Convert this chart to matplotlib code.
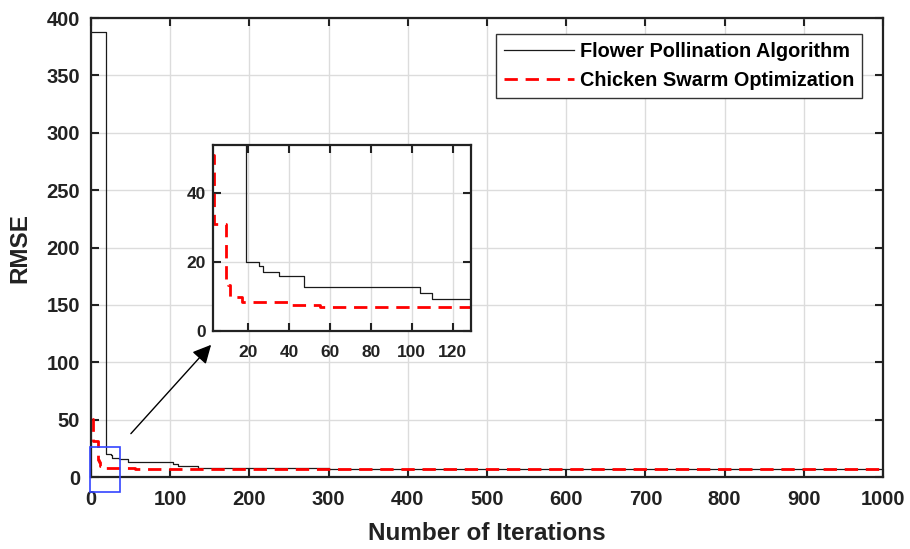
import matplotlib
matplotlib.use("Agg")
import matplotlib.pyplot as plt
from matplotlib.patches import Rectangle
import numpy as np

plt.rcParams['font.family'] = ['Liberation Sans', 'DejaVu Sans']
plt.rcParams['font.weight'] = 'bold'

# Step curves: iteration where a new best value begins, and that value
fpa_iter = [1, 19, 25, 27, 35, 47, 104, 110, 135, 210, 300, 1000]
fpa_rmse = [388, 20, 19, 17, 16, 12.8, 11, 9.2, 8.2, 7.5, 7.0, 7.0]
cso_iter = [1, 3, 9, 10, 11, 17, 40, 55, 1000]
cso_rmse = [51, 31, 15, 13.5, 10, 8.3, 7.6, 7.0, 7.0]

labels = ['Flower Pollination Algorithm', 'Chicken Swarm Optimization']
x_ticks = [0, 100, 200, 300, 400, 500, 600, 700, 800, 900, 1000]
y_ticks = [0, 50, 100, 150, 200, 250, 300, 350, 400]
inset_x_ticks = [20, 40, 60, 80, 100, 120]
inset_y_ticks = [0, 20, 40]

fig = plt.figure(figsize=(9.10, 5.49), dpi=100)
ax = fig.add_axes([0.1, 0.1311, 0.8703, 0.8361])

def style(a, fs, xpad, ypad):
    a.grid(True, color='#dcdcdc', lw=1.0)
    a.set_axisbelow(True)
    for s in a.spines.values():
        s.set_linewidth(1.6)
        s.set_color('#222222')
    a.tick_params(direction='in', top=True, right=True, length=6, width=1.5,
                  labelsize=fs, colors='#222222', labelcolor='#222222')
    a.tick_params(axis='x', pad=xpad)
    a.tick_params(axis='y', pad=ypad)
    for lab in a.get_xticklabels() + a.get_yticklabels():
        lab.set_fontweight('bold')

ax.plot(fpa_iter, fpa_rmse, drawstyle='steps-post', color='#1a1a1a', lw=0.9, label=labels[0])
ax.plot(cso_iter, cso_rmse, drawstyle='steps-post', color='#ff0000', lw=2.0,
        dashes=(4.8, 2.8), label=labels[1])
ax.set_xlim(0, 1000)
ax.set_ylim(0, 400)
ax.set_xticks(x_ticks)
ax.set_yticks(y_ticks)
style(ax, 14.5, 9, 8)
ax.set_xlabel('Number of Iterations', fontsize=17.5, fontweight='bold', color='#222222', labelpad=10)
ax.set_ylabel('RMSE', fontsize=17.5, fontweight='bold', color='#222222', labelpad=11)

leg = ax.legend(loc='upper right', bbox_to_anchor=(0.9735, 0.965), borderaxespad=0,
                fontsize=14.3, handlelength=3.5,
                handletextpad=0.3, borderpad=0.4, labelspacing=0.5, fancybox=False,
                edgecolor='#333333', framealpha=1)
leg.get_frame().set_linewidth(1.0)
for t in leg.get_texts():
    t.set_fontweight('bold')

rect = Rectangle((-1.3, -13), 38, 39, fill=False, edgecolor='#3344ff', lw=1.2, clip_on=False, zorder=5)
ax.add_patch(rect)
ax.annotate('', xy=(154, 117), xytext=(48, 36),
            arrowprops=dict(arrowstyle='-|>', color='black', lw=1.0, mutation_scale=28))

ins = fig.add_axes([0.2337, 0.397, 0.2839, 0.3389])
ins.plot(fpa_iter, fpa_rmse, drawstyle='steps-post', color='#1a1a1a', lw=0.9)
ins.plot(cso_iter, cso_rmse, drawstyle='steps-post', color='#ff0000', lw=2.0, dashes=(4.8, 2.8))
ins.set_xlim(2.5, 129)
ins.set_ylim(0, 54)
ins.set_xticks(inset_x_ticks)
ins.set_yticks(inset_y_ticks)
style(ins, 12.5, 10, 5)

fig.savefig('out.png', dpi=100)
